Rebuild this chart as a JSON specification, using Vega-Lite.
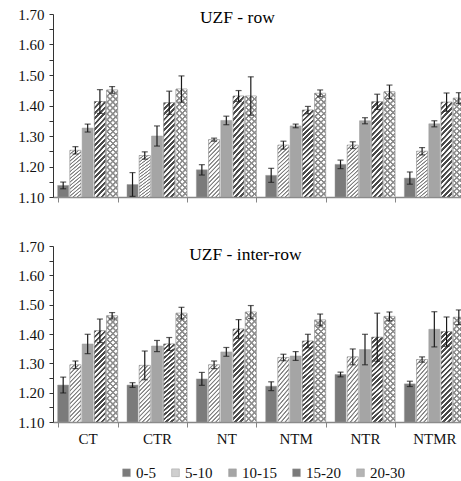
{
  "$schema": "https://vega.github.io/schema/vega-lite/v6.json",
  "padding": {"left": 17, "top": 7, "right": 0, "bottom": 20},
  "background": "white",
  "spacing": 34,
  "data": {
    "values": [
      {"panel": "row", "treat": "CT", "depth": "0-5", "value": 1.138, "err": 0.011},
      {"panel": "row", "treat": "CT", "depth": "5-10", "value": 1.253, "err": 0.012},
      {"panel": "row", "treat": "CT", "depth": "10-15", "value": 1.326, "err": 0.013},
      {"panel": "row", "treat": "CT", "depth": "15-20", "value": 1.413, "err": 0.039},
      {"panel": "row", "treat": "CT", "depth": "20-30", "value": 1.451, "err": 0.011},
      {"panel": "row", "treat": "CTR", "depth": "0-5", "value": 1.141, "err": 0.039},
      {"panel": "row", "treat": "CTR", "depth": "5-10", "value": 1.236, "err": 0.012},
      {"panel": "row", "treat": "CTR", "depth": "10-15", "value": 1.3, "err": 0.033},
      {"panel": "row", "treat": "CTR", "depth": "15-20", "value": 1.409, "err": 0.038},
      {"panel": "row", "treat": "CTR", "depth": "20-30", "value": 1.454, "err": 0.043},
      {"panel": "row", "treat": "NT", "depth": "0-5", "value": 1.189, "err": 0.017},
      {"panel": "row", "treat": "NT", "depth": "5-10", "value": 1.288, "err": 0.005},
      {"panel": "row", "treat": "NT", "depth": "10-15", "value": 1.351, "err": 0.014},
      {"panel": "row", "treat": "NT", "depth": "15-20", "value": 1.431, "err": 0.018},
      {"panel": "row", "treat": "NT", "depth": "20-30", "value": 1.431, "err": 0.063},
      {"panel": "row", "treat": "NTM", "depth": "0-5", "value": 1.171, "err": 0.023},
      {"panel": "row", "treat": "NTM", "depth": "5-10", "value": 1.27, "err": 0.013},
      {"panel": "row", "treat": "NTM", "depth": "10-15", "value": 1.333, "err": 0.006},
      {"panel": "row", "treat": "NTM", "depth": "15-20", "value": 1.385, "err": 0.012},
      {"panel": "row", "treat": "NTM", "depth": "20-30", "value": 1.44, "err": 0.011},
      {"panel": "row", "treat": "NTR", "depth": "0-5", "value": 1.207, "err": 0.014},
      {"panel": "row", "treat": "NTR", "depth": "5-10", "value": 1.27, "err": 0.011},
      {"panel": "row", "treat": "NTR", "depth": "10-15", "value": 1.35, "err": 0.01},
      {"panel": "row", "treat": "NTR", "depth": "15-20", "value": 1.412, "err": 0.025},
      {"panel": "row", "treat": "NTR", "depth": "20-30", "value": 1.445, "err": 0.022},
      {"panel": "row", "treat": "NTMR", "depth": "0-5", "value": 1.162, "err": 0.02},
      {"panel": "row", "treat": "NTMR", "depth": "5-10", "value": 1.25, "err": 0.012},
      {"panel": "row", "treat": "NTMR", "depth": "10-15", "value": 1.34, "err": 0.01},
      {"panel": "row", "treat": "NTMR", "depth": "15-20", "value": 1.411, "err": 0.03},
      {"panel": "row", "treat": "NTMR", "depth": "20-30", "value": 1.424, "err": 0.018},
      {"panel": "inter-row", "treat": "CT", "depth": "0-5", "value": 1.226, "err": 0.027},
      {"panel": "inter-row", "treat": "CT", "depth": "5-10", "value": 1.295, "err": 0.013},
      {"panel": "inter-row", "treat": "CT", "depth": "10-15", "value": 1.366, "err": 0.033},
      {"panel": "inter-row", "treat": "CT", "depth": "15-20", "value": 1.411, "err": 0.04},
      {"panel": "inter-row", "treat": "CT", "depth": "20-30", "value": 1.462, "err": 0.011},
      {"panel": "inter-row", "treat": "CTR", "depth": "0-5", "value": 1.226, "err": 0.008},
      {"panel": "inter-row", "treat": "CTR", "depth": "5-10", "value": 1.293, "err": 0.049},
      {"panel": "inter-row", "treat": "CTR", "depth": "10-15", "value": 1.359, "err": 0.019},
      {"panel": "inter-row", "treat": "CTR", "depth": "15-20", "value": 1.366, "err": 0.022},
      {"panel": "inter-row", "treat": "CTR", "depth": "20-30", "value": 1.471, "err": 0.02},
      {"panel": "inter-row", "treat": "NT", "depth": "0-5", "value": 1.247, "err": 0.022},
      {"panel": "inter-row", "treat": "NT", "depth": "5-10", "value": 1.295, "err": 0.013},
      {"panel": "inter-row", "treat": "NT", "depth": "10-15", "value": 1.339, "err": 0.015},
      {"panel": "inter-row", "treat": "NT", "depth": "15-20", "value": 1.417, "err": 0.032},
      {"panel": "inter-row", "treat": "NT", "depth": "20-30", "value": 1.475, "err": 0.022},
      {"panel": "inter-row", "treat": "NTM", "depth": "0-5", "value": 1.222, "err": 0.015},
      {"panel": "inter-row", "treat": "NTM", "depth": "5-10", "value": 1.32, "err": 0.011},
      {"panel": "inter-row", "treat": "NTM", "depth": "10-15", "value": 1.325, "err": 0.015},
      {"panel": "inter-row", "treat": "NTM", "depth": "15-20", "value": 1.376, "err": 0.023},
      {"panel": "inter-row", "treat": "NTM", "depth": "20-30", "value": 1.448, "err": 0.02},
      {"panel": "inter-row", "treat": "NTR", "depth": "0-5", "value": 1.262, "err": 0.008},
      {"panel": "inter-row", "treat": "NTR", "depth": "5-10", "value": 1.322, "err": 0.027},
      {"panel": "inter-row", "treat": "NTR", "depth": "10-15", "value": 1.347, "err": 0.052},
      {"panel": "inter-row", "treat": "NTR", "depth": "15-20", "value": 1.389, "err": 0.082},
      {"panel": "inter-row", "treat": "NTR", "depth": "20-30", "value": 1.46, "err": 0.015},
      {"panel": "inter-row", "treat": "NTMR", "depth": "0-5", "value": 1.23, "err": 0.009},
      {"panel": "inter-row", "treat": "NTMR", "depth": "5-10", "value": 1.313, "err": 0.009},
      {"panel": "inter-row", "treat": "NTMR", "depth": "10-15", "value": 1.416, "err": 0.06},
      {"panel": "inter-row", "treat": "NTMR", "depth": "15-20", "value": 1.408, "err": 0.05},
      {"panel": "inter-row", "treat": "NTMR", "depth": "20-30", "value": 1.457, "err": 0.025}
    ]
  },
  "transform": [
    {"calculate": "datum.value - datum.err", "as": "lo"},
    {"calculate": "datum.value + datum.err", "as": "hi"}
  ],
  "vconcat": [
    {
      "width": 416,
      "height": 183,
      "transform": [{"filter": "datum.panel == 'row'"}],
      "resolve": {"axis": {"y": "independent"}},
      "layer": [
        {
          "mark": {"type": "bar", "stroke": "#9a9a9a", "strokeWidth": 0.5},
          "encoding": {
            "x": {"field": "treat", "type": "nominal", "sort": ["CT", "CTR", "NT", "NTM", "NTR", "NTMR"],
                  "scale": {"paddingInner": 0.135, "paddingOuter": 0.0675},
                  "axis": {"title": null, "labels": false, "tickBand": "extent", "tickSize": 5, "tickColor": "#868686", "domainColor": "#868686", "domainWidth": 1.5}},
            "xOffset": {"field": "depth", "type": "nominal", "sort": ["0-5", "5-10", "10-15", "15-20", "20-30"],
                        "scale": {"domain": ["0-5", "5-10", "10-15", "15-20", "20-30"], "paddingInner": 0.1, "paddingOuter": 0}},
            "y": {"field": "value", "type": "quantitative", "title": null,
                  "scale": {"domain": [1.1, 1.7], "nice": false, "zero": false},
                  "axis": {"orient": "left", "values": [1.1, 1.2, 1.3, 1.4, 1.5, 1.6, 1.7], "format": ".2f",
                           "labelOverlap": false, "grid": false, "tickSize": 4, "labelPadding": 5, "tickColor": "#333", "domainColor": "#333",
                           "labelFont": "Liberation Serif, Times New Roman, serif", "labelFontSize": 15, "labelColor": "#111"}},
            "y2": {"datum": 1.1},
            "fill": {"field": "depth", "type": "nominal", "sort": ["0-5", "5-10", "10-15", "15-20", "20-30"],
                     "scale": {"domain": ["0-5", "5-10", "10-15", "15-20", "20-30"], "range": ["#7b7b7b", "#cfcfcf", "#a5a5a5", "#7a7a7a", "#b4b4b4"]},
                     "legend": {"orient": "none", "legendX": 66, "legendY": 451, "direction": "horizontal", "columns": 5,
                                "title": null, "symbolType": "square", "symbolSize": 60, "symbolStrokeWidth": 0.5, "symbolStrokeColor": "#999",
                                "labelFont": "Liberation Serif, Times New Roman, serif", "labelFontSize": 15, "labelColor": "#111", "labelOffset": 2, "columnPadding": 12}}
          }
        },
        {
          "transform": [{"filter": "datum.depth == '5-10'"}],
          "mark": {"type": "bar", "stroke": "#9a9a9a", "strokeWidth": 0.5,
                   "fill": {"gradient": "linear", "x1": 0, "y1": 0, "x2": 0.2308, "y2": 1.1538, "stops": [
                     {"offset": 0, "color": "#7f7f7f"}, {"offset": 0.012, "color": "#7f7f7f"}, {"offset": 0.024, "color": "#ffffff"}, {"offset": 0.05, "color": "#ffffff"},
                     {"offset": 0.0625, "color": "#7f7f7f"}, {"offset": 0.0745, "color": "#7f7f7f"}, {"offset": 0.0865, "color": "#ffffff"}, {"offset": 0.1125, "color": "#ffffff"},
                     {"offset": 0.125, "color": "#7f7f7f"}, {"offset": 0.137, "color": "#7f7f7f"}, {"offset": 0.149, "color": "#ffffff"}, {"offset": 0.175, "color": "#ffffff"},
                     {"offset": 0.1875, "color": "#7f7f7f"}, {"offset": 0.1995, "color": "#7f7f7f"}, {"offset": 0.2115, "color": "#ffffff"}, {"offset": 0.2375, "color": "#ffffff"},
                     {"offset": 0.25, "color": "#7f7f7f"}, {"offset": 0.262, "color": "#7f7f7f"}, {"offset": 0.274, "color": "#ffffff"}, {"offset": 0.3, "color": "#ffffff"},
                     {"offset": 0.3125, "color": "#7f7f7f"}, {"offset": 0.3245, "color": "#7f7f7f"}, {"offset": 0.3365, "color": "#ffffff"}, {"offset": 0.3625, "color": "#ffffff"},
                     {"offset": 0.375, "color": "#7f7f7f"}, {"offset": 0.387, "color": "#7f7f7f"}, {"offset": 0.399, "color": "#ffffff"}, {"offset": 0.425, "color": "#ffffff"},
                     {"offset": 0.4375, "color": "#7f7f7f"}, {"offset": 0.4495, "color": "#7f7f7f"}, {"offset": 0.4615, "color": "#ffffff"}, {"offset": 0.4875, "color": "#ffffff"},
                     {"offset": 0.5, "color": "#7f7f7f"}, {"offset": 0.512, "color": "#7f7f7f"}, {"offset": 0.524, "color": "#ffffff"}, {"offset": 0.55, "color": "#ffffff"},
                     {"offset": 0.5625, "color": "#7f7f7f"}, {"offset": 0.5745, "color": "#7f7f7f"}, {"offset": 0.5865, "color": "#ffffff"}, {"offset": 0.6125, "color": "#ffffff"},
                     {"offset": 0.625, "color": "#7f7f7f"}, {"offset": 0.637, "color": "#7f7f7f"}, {"offset": 0.649, "color": "#ffffff"}, {"offset": 0.675, "color": "#ffffff"},
                     {"offset": 0.6875, "color": "#7f7f7f"}, {"offset": 0.6995, "color": "#7f7f7f"}, {"offset": 0.7115, "color": "#ffffff"}, {"offset": 0.7375, "color": "#ffffff"},
                     {"offset": 0.75, "color": "#7f7f7f"}, {"offset": 0.762, "color": "#7f7f7f"}, {"offset": 0.774, "color": "#ffffff"}, {"offset": 0.8, "color": "#ffffff"},
                     {"offset": 0.8125, "color": "#7f7f7f"}, {"offset": 0.8245, "color": "#7f7f7f"}, {"offset": 0.8365, "color": "#ffffff"}, {"offset": 0.8625, "color": "#ffffff"},
                     {"offset": 0.875, "color": "#7f7f7f"}, {"offset": 0.887, "color": "#7f7f7f"}, {"offset": 0.899, "color": "#ffffff"}, {"offset": 0.925, "color": "#ffffff"},
                     {"offset": 0.9375, "color": "#7f7f7f"}, {"offset": 0.9495, "color": "#7f7f7f"}, {"offset": 0.9615, "color": "#ffffff"}, {"offset": 0.9875, "color": "#ffffff"},
                     {"offset": 1, "color": "#7f7f7f"}
                   ]}},
          "encoding": {
            "x": {"field": "treat", "type": "nominal", "sort": ["CT", "CTR", "NT", "NTM", "NTR", "NTMR"]},
            "xOffset": {"field": "depth", "type": "nominal", "sort": ["0-5", "5-10", "10-15", "15-20", "20-30"]},
            "y": {"field": "value", "type": "quantitative", "axis": null},
            "y2": {"datum": 1.1}
          }
        },
        {
          "transform": [{"filter": "datum.depth == '15-20'"}],
          "mark": {"type": "bar", "stroke": "#8a8a8a", "strokeWidth": 0.5,
                   "fill": {"gradient": "linear", "x1": 0, "y1": 0, "x2": 0.135, "y2": 1.106, "stops": [
                     {"offset": 0, "color": "#4a4a4a"}, {"offset": 0.022, "color": "#4a4a4a"}, {"offset": 0.028, "color": "#ffffff"}, {"offset": 0.047, "color": "#ffffff"},
                     {"offset": 0.05, "color": "#4a4a4a"}, {"offset": 0.072, "color": "#4a4a4a"}, {"offset": 0.078, "color": "#ffffff"}, {"offset": 0.097, "color": "#ffffff"},
                     {"offset": 0.1, "color": "#4a4a4a"}, {"offset": 0.122, "color": "#4a4a4a"}, {"offset": 0.128, "color": "#ffffff"}, {"offset": 0.147, "color": "#ffffff"},
                     {"offset": 0.15, "color": "#4a4a4a"}, {"offset": 0.172, "color": "#4a4a4a"}, {"offset": 0.178, "color": "#ffffff"}, {"offset": 0.197, "color": "#ffffff"},
                     {"offset": 0.2, "color": "#4a4a4a"}, {"offset": 0.222, "color": "#4a4a4a"}, {"offset": 0.228, "color": "#ffffff"}, {"offset": 0.247, "color": "#ffffff"},
                     {"offset": 0.25, "color": "#4a4a4a"}, {"offset": 0.272, "color": "#4a4a4a"}, {"offset": 0.278, "color": "#ffffff"}, {"offset": 0.297, "color": "#ffffff"},
                     {"offset": 0.3, "color": "#4a4a4a"}, {"offset": 0.322, "color": "#4a4a4a"}, {"offset": 0.328, "color": "#ffffff"}, {"offset": 0.347, "color": "#ffffff"},
                     {"offset": 0.35, "color": "#4a4a4a"}, {"offset": 0.372, "color": "#4a4a4a"}, {"offset": 0.378, "color": "#ffffff"}, {"offset": 0.397, "color": "#ffffff"},
                     {"offset": 0.4, "color": "#4a4a4a"}, {"offset": 0.422, "color": "#4a4a4a"}, {"offset": 0.428, "color": "#ffffff"}, {"offset": 0.447, "color": "#ffffff"},
                     {"offset": 0.45, "color": "#4a4a4a"}, {"offset": 0.472, "color": "#4a4a4a"}, {"offset": 0.478, "color": "#ffffff"}, {"offset": 0.497, "color": "#ffffff"},
                     {"offset": 0.5, "color": "#4a4a4a"}, {"offset": 0.522, "color": "#4a4a4a"}, {"offset": 0.528, "color": "#ffffff"}, {"offset": 0.547, "color": "#ffffff"},
                     {"offset": 0.55, "color": "#4a4a4a"}, {"offset": 0.572, "color": "#4a4a4a"}, {"offset": 0.578, "color": "#ffffff"}, {"offset": 0.597, "color": "#ffffff"},
                     {"offset": 0.6, "color": "#4a4a4a"}, {"offset": 0.622, "color": "#4a4a4a"}, {"offset": 0.628, "color": "#ffffff"}, {"offset": 0.647, "color": "#ffffff"},
                     {"offset": 0.65, "color": "#4a4a4a"}, {"offset": 0.672, "color": "#4a4a4a"}, {"offset": 0.678, "color": "#ffffff"}, {"offset": 0.697, "color": "#ffffff"},
                     {"offset": 0.7, "color": "#4a4a4a"}, {"offset": 0.722, "color": "#4a4a4a"}, {"offset": 0.728, "color": "#ffffff"}, {"offset": 0.747, "color": "#ffffff"},
                     {"offset": 0.75, "color": "#4a4a4a"}, {"offset": 0.772, "color": "#4a4a4a"}, {"offset": 0.778, "color": "#ffffff"}, {"offset": 0.797, "color": "#ffffff"},
                     {"offset": 0.8, "color": "#4a4a4a"}, {"offset": 0.822, "color": "#4a4a4a"}, {"offset": 0.828, "color": "#ffffff"}, {"offset": 0.847, "color": "#ffffff"},
                     {"offset": 0.85, "color": "#4a4a4a"}, {"offset": 0.872, "color": "#4a4a4a"}, {"offset": 0.878, "color": "#ffffff"}, {"offset": 0.897, "color": "#ffffff"},
                     {"offset": 0.9, "color": "#4a4a4a"}, {"offset": 0.922, "color": "#4a4a4a"}, {"offset": 0.928, "color": "#ffffff"}, {"offset": 0.947, "color": "#ffffff"},
                     {"offset": 0.95, "color": "#4a4a4a"}, {"offset": 0.972, "color": "#4a4a4a"}, {"offset": 0.978, "color": "#ffffff"}, {"offset": 1, "color": "#ffffff"}
                   ]}},
          "encoding": {
            "x": {"field": "treat", "type": "nominal", "sort": ["CT", "CTR", "NT", "NTM", "NTR", "NTMR"]},
            "xOffset": {"field": "depth", "type": "nominal", "sort": ["0-5", "5-10", "10-15", "15-20", "20-30"]},
            "y": {"field": "value", "type": "quantitative", "axis": null},
            "y2": {"datum": 1.1}
          }
        },
        {
          "transform": [{"filter": "datum.depth == '20-30'"}],
          "mark": {"type": "bar", "stroke": "#9a9a9a", "strokeWidth": 0.5,
                   "fill": {"gradient": "linear", "x1": 0, "y1": 0, "x2": 0.1148, "y2": 1.093, "stops": [
                     {"offset": 0, "color": "#8c8c8c"}, {"offset": 0.012, "color": "#8c8c8c"}, {"offset": 0.02, "color": "#ffffff"}, {"offset": 0.045, "color": "#ffffff"},
                     {"offset": 0.05, "color": "#8c8c8c"}, {"offset": 0.062, "color": "#8c8c8c"}, {"offset": 0.07, "color": "#ffffff"}, {"offset": 0.095, "color": "#ffffff"},
                     {"offset": 0.1, "color": "#8c8c8c"}, {"offset": 0.112, "color": "#8c8c8c"}, {"offset": 0.12, "color": "#ffffff"}, {"offset": 0.145, "color": "#ffffff"},
                     {"offset": 0.15, "color": "#8c8c8c"}, {"offset": 0.162, "color": "#8c8c8c"}, {"offset": 0.17, "color": "#ffffff"}, {"offset": 0.195, "color": "#ffffff"},
                     {"offset": 0.2, "color": "#8c8c8c"}, {"offset": 0.212, "color": "#8c8c8c"}, {"offset": 0.22, "color": "#ffffff"}, {"offset": 0.245, "color": "#ffffff"},
                     {"offset": 0.25, "color": "#8c8c8c"}, {"offset": 0.262, "color": "#8c8c8c"}, {"offset": 0.27, "color": "#ffffff"}, {"offset": 0.295, "color": "#ffffff"},
                     {"offset": 0.3, "color": "#8c8c8c"}, {"offset": 0.312, "color": "#8c8c8c"}, {"offset": 0.32, "color": "#ffffff"}, {"offset": 0.345, "color": "#ffffff"},
                     {"offset": 0.35, "color": "#8c8c8c"}, {"offset": 0.362, "color": "#8c8c8c"}, {"offset": 0.37, "color": "#ffffff"}, {"offset": 0.395, "color": "#ffffff"},
                     {"offset": 0.4, "color": "#8c8c8c"}, {"offset": 0.412, "color": "#8c8c8c"}, {"offset": 0.42, "color": "#ffffff"}, {"offset": 0.445, "color": "#ffffff"},
                     {"offset": 0.45, "color": "#8c8c8c"}, {"offset": 0.462, "color": "#8c8c8c"}, {"offset": 0.47, "color": "#ffffff"}, {"offset": 0.495, "color": "#ffffff"},
                     {"offset": 0.5, "color": "#8c8c8c"}, {"offset": 0.512, "color": "#8c8c8c"}, {"offset": 0.52, "color": "#ffffff"}, {"offset": 0.545, "color": "#ffffff"},
                     {"offset": 0.55, "color": "#8c8c8c"}, {"offset": 0.562, "color": "#8c8c8c"}, {"offset": 0.57, "color": "#ffffff"}, {"offset": 0.595, "color": "#ffffff"},
                     {"offset": 0.6, "color": "#8c8c8c"}, {"offset": 0.612, "color": "#8c8c8c"}, {"offset": 0.62, "color": "#ffffff"}, {"offset": 0.645, "color": "#ffffff"},
                     {"offset": 0.65, "color": "#8c8c8c"}, {"offset": 0.662, "color": "#8c8c8c"}, {"offset": 0.67, "color": "#ffffff"}, {"offset": 0.695, "color": "#ffffff"},
                     {"offset": 0.7, "color": "#8c8c8c"}, {"offset": 0.712, "color": "#8c8c8c"}, {"offset": 0.72, "color": "#ffffff"}, {"offset": 0.745, "color": "#ffffff"},
                     {"offset": 0.75, "color": "#8c8c8c"}, {"offset": 0.762, "color": "#8c8c8c"}, {"offset": 0.77, "color": "#ffffff"}, {"offset": 0.795, "color": "#ffffff"},
                     {"offset": 0.8, "color": "#8c8c8c"}, {"offset": 0.812, "color": "#8c8c8c"}, {"offset": 0.82, "color": "#ffffff"}, {"offset": 0.845, "color": "#ffffff"},
                     {"offset": 0.85, "color": "#8c8c8c"}, {"offset": 0.862, "color": "#8c8c8c"}, {"offset": 0.87, "color": "#ffffff"}, {"offset": 0.895, "color": "#ffffff"},
                     {"offset": 0.9, "color": "#8c8c8c"}, {"offset": 0.912, "color": "#8c8c8c"}, {"offset": 0.92, "color": "#ffffff"}, {"offset": 0.945, "color": "#ffffff"},
                     {"offset": 0.95, "color": "#8c8c8c"}, {"offset": 0.962, "color": "#8c8c8c"}, {"offset": 0.97, "color": "#ffffff"}, {"offset": 1, "color": "#ffffff"}
                   ]}},
          "encoding": {
            "x": {"field": "treat", "type": "nominal", "sort": ["CT", "CTR", "NT", "NTM", "NTR", "NTMR"]},
            "xOffset": {"field": "depth", "type": "nominal", "sort": ["0-5", "5-10", "10-15", "15-20", "20-30"]},
            "y": {"field": "value", "type": "quantitative", "axis": null},
            "y2": {"datum": 1.1}
          }
        },
        {
          "transform": [{"filter": "datum.depth == '20-30'"}],
          "mark": {"type": "bar", "strokeWidth": 0,
                   "fill": {"gradient": "linear", "x1": 0, "y1": 1, "x2": 0.1148, "y2": -0.093, "stops": [
                     {"offset": 0, "color": "#8c8c8c"}, {"offset": 0.012, "color": "#8c8c8c"}, {"offset": 0.02, "color": "rgba(140,140,140,0)"}, {"offset": 0.045, "color": "rgba(140,140,140,0)"},
                     {"offset": 0.05, "color": "#8c8c8c"}, {"offset": 0.062, "color": "#8c8c8c"}, {"offset": 0.07, "color": "rgba(140,140,140,0)"}, {"offset": 0.095, "color": "rgba(140,140,140,0)"},
                     {"offset": 0.1, "color": "#8c8c8c"}, {"offset": 0.112, "color": "#8c8c8c"}, {"offset": 0.12, "color": "rgba(140,140,140,0)"}, {"offset": 0.145, "color": "rgba(140,140,140,0)"},
                     {"offset": 0.15, "color": "#8c8c8c"}, {"offset": 0.162, "color": "#8c8c8c"}, {"offset": 0.17, "color": "rgba(140,140,140,0)"}, {"offset": 0.195, "color": "rgba(140,140,140,0)"},
                     {"offset": 0.2, "color": "#8c8c8c"}, {"offset": 0.212, "color": "#8c8c8c"}, {"offset": 0.22, "color": "rgba(140,140,140,0)"}, {"offset": 0.245, "color": "rgba(140,140,140,0)"},
                     {"offset": 0.25, "color": "#8c8c8c"}, {"offset": 0.262, "color": "#8c8c8c"}, {"offset": 0.27, "color": "rgba(140,140,140,0)"}, {"offset": 0.295, "color": "rgba(140,140,140,0)"},
                     {"offset": 0.3, "color": "#8c8c8c"}, {"offset": 0.312, "color": "#8c8c8c"}, {"offset": 0.32, "color": "rgba(140,140,140,0)"}, {"offset": 0.345, "color": "rgba(140,140,140,0)"},
                     {"offset": 0.35, "color": "#8c8c8c"}, {"offset": 0.362, "color": "#8c8c8c"}, {"offset": 0.37, "color": "rgba(140,140,140,0)"}, {"offset": 0.395, "color": "rgba(140,140,140,0)"},
                     {"offset": 0.4, "color": "#8c8c8c"}, {"offset": 0.412, "color": "#8c8c8c"}, {"offset": 0.42, "color": "rgba(140,140,140,0)"}, {"offset": 0.445, "color": "rgba(140,140,140,0)"},
                     {"offset": 0.45, "color": "#8c8c8c"}, {"offset": 0.462, "color": "#8c8c8c"}, {"offset": 0.47, "color": "rgba(140,140,140,0)"}, {"offset": 0.495, "color": "rgba(140,140,140,0)"},
                     {"offset": 0.5, "color": "#8c8c8c"}, {"offset": 0.512, "color": "#8c8c8c"}, {"offset": 0.52, "color": "rgba(140,140,140,0)"}, {"offset": 0.545, "color": "rgba(140,140,140,0)"},
                     {"offset": 0.55, "color": "#8c8c8c"}, {"offset": 0.562, "color": "#8c8c8c"}, {"offset": 0.57, "color": "rgba(140,140,140,0)"}, {"offset": 0.595, "color": "rgba(140,140,140,0)"},
                     {"offset": 0.6, "color": "#8c8c8c"}, {"offset": 0.612, "color": "#8c8c8c"}, {"offset": 0.62, "color": "rgba(140,140,140,0)"}, {"offset": 0.645, "color": "rgba(140,140,140,0)"},
                     {"offset": 0.65, "color": "#8c8c8c"}, {"offset": 0.662, "color": "#8c8c8c"}, {"offset": 0.67, "color": "rgba(140,140,140,0)"}, {"offset": 0.695, "color": "rgba(140,140,140,0)"},
                     {"offset": 0.7, "color": "#8c8c8c"}, {"offset": 0.712, "color": "#8c8c8c"}, {"offset": 0.72, "color": "rgba(140,140,140,0)"}, {"offset": 0.745, "color": "rgba(140,140,140,0)"},
                     {"offset": 0.75, "color": "#8c8c8c"}, {"offset": 0.762, "color": "#8c8c8c"}, {"offset": 0.77, "color": "rgba(140,140,140,0)"}, {"offset": 0.795, "color": "rgba(140,140,140,0)"},
                     {"offset": 0.8, "color": "#8c8c8c"}, {"offset": 0.812, "color": "#8c8c8c"}, {"offset": 0.82, "color": "rgba(140,140,140,0)"}, {"offset": 0.845, "color": "rgba(140,140,140,0)"},
                     {"offset": 0.85, "color": "#8c8c8c"}, {"offset": 0.862, "color": "#8c8c8c"}, {"offset": 0.87, "color": "rgba(140,140,140,0)"}, {"offset": 0.895, "color": "rgba(140,140,140,0)"},
                     {"offset": 0.9, "color": "#8c8c8c"}, {"offset": 0.912, "color": "#8c8c8c"}, {"offset": 0.92, "color": "rgba(140,140,140,0)"}, {"offset": 0.945, "color": "rgba(140,140,140,0)"},
                     {"offset": 0.95, "color": "#8c8c8c"}, {"offset": 0.962, "color": "#8c8c8c"}, {"offset": 0.97, "color": "rgba(140,140,140,0)"}, {"offset": 1, "color": "rgba(140,140,140,0)"}
                   ]}},
          "encoding": {
            "x": {"field": "treat", "type": "nominal", "sort": ["CT", "CTR", "NT", "NTM", "NTR", "NTMR"]},
            "xOffset": {"field": "depth", "type": "nominal", "sort": ["0-5", "5-10", "10-15", "15-20", "20-30"]},
            "y": {"field": "value", "type": "quantitative", "axis": null},
            "y2": {"datum": 1.1}
          }
        },
        {
          "mark": {"type": "rule", "color": "#1a1a1a", "strokeWidth": 1.2},
          "encoding": {
            "x": {"field": "treat", "type": "nominal", "sort": ["CT", "CTR", "NT", "NTM", "NTR", "NTMR"]},
            "xOffset": {"field": "depth", "type": "nominal", "sort": ["0-5", "5-10", "10-15", "15-20", "20-30"]},
            "y": {"field": "lo", "type": "quantitative",
                  "axis": {"orient": "left", "title": null, "values": [1.15, 1.25, 1.35, 1.45, 1.55, 1.65], "labels": false, "domain": false, "grid": false,
                           "ticks": true, "tickSize": 4, "tickColor": "#333"}},
            "y2": {"field": "hi"}
          }
        },
        {
          "mark": {"type": "tick", "color": "#1a1a1a", "thickness": 1.2, "size": 6, "orient": "horizontal"},
          "encoding": {
            "x": {"field": "treat", "type": "nominal", "sort": ["CT", "CTR", "NT", "NTM", "NTR", "NTMR"]},
            "xOffset": {"field": "depth", "type": "nominal", "sort": ["0-5", "5-10", "10-15", "15-20", "20-30"]},
            "y": {"field": "lo", "type": "quantitative", "axis": null}
          }
        },
        {
          "mark": {"type": "tick", "color": "#1a1a1a", "thickness": 1.2, "size": 6, "orient": "horizontal"},
          "encoding": {
            "x": {"field": "treat", "type": "nominal", "sort": ["CT", "CTR", "NT", "NTM", "NTR", "NTMR"]},
            "xOffset": {"field": "depth", "type": "nominal", "sort": ["0-5", "5-10", "10-15", "15-20", "20-30"]},
            "y": {"field": "hi", "type": "quantitative", "axis": null}
          }
        },
        {
          "transform": [{"filter": "datum.treat == 'CT' && datum.depth == '0-5'"}],
          "mark": {"type": "text", "font": "Liberation Serif, Times New Roman, serif", "fontSize": 17.5, "align": "center", "baseline": "alphabetic", "dx": 11, "color": "#000"},
          "encoding": {
            "x": {"datum": "NT", "type": "nominal"},
            "y": {"datum": 1.672, "type": "quantitative", "axis": null},
            "text": {"value": "UZF - row"}
          }
        }
      ]
    },
    {
      "width": 416,
      "height": 176,
      "transform": [{"filter": "datum.panel == 'inter-row'"}],
      "resolve": {"axis": {"y": "independent"}},
      "layer": [
        {
          "mark": {"type": "bar", "stroke": "#9a9a9a", "strokeWidth": 0.5},
          "encoding": {
            "x": {"field": "treat", "type": "nominal", "sort": ["CT", "CTR", "NT", "NTM", "NTR", "NTMR"],
                  "scale": {"paddingInner": 0.135, "paddingOuter": 0.0675},
                  "axis": {"title": null, "labels": true, "labelAngle": 0, "tickBand": "extent", "tickSize": 5, "tickColor": "#868686", "domainColor": "#868686", "domainWidth": 1.5,
                           "labelFont": "Liberation Serif, Times New Roman, serif", "labelFontSize": 15, "labelColor": "#111", "labelPadding": 4}},
            "xOffset": {"field": "depth", "type": "nominal", "sort": ["0-5", "5-10", "10-15", "15-20", "20-30"],
                        "scale": {"domain": ["0-5", "5-10", "10-15", "15-20", "20-30"], "paddingInner": 0.1, "paddingOuter": 0}},
            "y": {"field": "value", "type": "quantitative", "title": null,
                  "scale": {"domain": [1.1, 1.7], "nice": false, "zero": false},
                  "axis": {"orient": "left", "values": [1.1, 1.2, 1.3, 1.4, 1.5, 1.6, 1.7], "format": ".2f",
                           "labelOverlap": false, "grid": false, "tickSize": 4, "labelPadding": 5, "tickColor": "#333", "domainColor": "#333",
                           "labelFont": "Liberation Serif, Times New Roman, serif", "labelFontSize": 15, "labelColor": "#111"}},
            "y2": {"datum": 1.1},
            "fill": {"field": "depth", "type": "nominal", "sort": ["0-5", "5-10", "10-15", "15-20", "20-30"],
                     "scale": {"domain": ["0-5", "5-10", "10-15", "15-20", "20-30"], "range": ["#7b7b7b", "#cfcfcf", "#a5a5a5", "#7a7a7a", "#b4b4b4"]}}
          }
        },
        {
          "transform": [{"filter": "datum.depth == '5-10'"}],
          "mark": {"type": "bar", "stroke": "#9a9a9a", "strokeWidth": 0.5,
                   "fill": {"gradient": "linear", "x1": 0, "y1": 0, "x2": 0.2308, "y2": 1.1538, "stops": [
                     {"offset": 0, "color": "#7f7f7f"}, {"offset": 0.012, "color": "#7f7f7f"}, {"offset": 0.024, "color": "#ffffff"}, {"offset": 0.05, "color": "#ffffff"},
                     {"offset": 0.0625, "color": "#7f7f7f"}, {"offset": 0.0745, "color": "#7f7f7f"}, {"offset": 0.0865, "color": "#ffffff"}, {"offset": 0.1125, "color": "#ffffff"},
                     {"offset": 0.125, "color": "#7f7f7f"}, {"offset": 0.137, "color": "#7f7f7f"}, {"offset": 0.149, "color": "#ffffff"}, {"offset": 0.175, "color": "#ffffff"},
                     {"offset": 0.1875, "color": "#7f7f7f"}, {"offset": 0.1995, "color": "#7f7f7f"}, {"offset": 0.2115, "color": "#ffffff"}, {"offset": 0.2375, "color": "#ffffff"},
                     {"offset": 0.25, "color": "#7f7f7f"}, {"offset": 0.262, "color": "#7f7f7f"}, {"offset": 0.274, "color": "#ffffff"}, {"offset": 0.3, "color": "#ffffff"},
                     {"offset": 0.3125, "color": "#7f7f7f"}, {"offset": 0.3245, "color": "#7f7f7f"}, {"offset": 0.3365, "color": "#ffffff"}, {"offset": 0.3625, "color": "#ffffff"},
                     {"offset": 0.375, "color": "#7f7f7f"}, {"offset": 0.387, "color": "#7f7f7f"}, {"offset": 0.399, "color": "#ffffff"}, {"offset": 0.425, "color": "#ffffff"},
                     {"offset": 0.4375, "color": "#7f7f7f"}, {"offset": 0.4495, "color": "#7f7f7f"}, {"offset": 0.4615, "color": "#ffffff"}, {"offset": 0.4875, "color": "#ffffff"},
                     {"offset": 0.5, "color": "#7f7f7f"}, {"offset": 0.512, "color": "#7f7f7f"}, {"offset": 0.524, "color": "#ffffff"}, {"offset": 0.55, "color": "#ffffff"},
                     {"offset": 0.5625, "color": "#7f7f7f"}, {"offset": 0.5745, "color": "#7f7f7f"}, {"offset": 0.5865, "color": "#ffffff"}, {"offset": 0.6125, "color": "#ffffff"},
                     {"offset": 0.625, "color": "#7f7f7f"}, {"offset": 0.637, "color": "#7f7f7f"}, {"offset": 0.649, "color": "#ffffff"}, {"offset": 0.675, "color": "#ffffff"},
                     {"offset": 0.6875, "color": "#7f7f7f"}, {"offset": 0.6995, "color": "#7f7f7f"}, {"offset": 0.7115, "color": "#ffffff"}, {"offset": 0.7375, "color": "#ffffff"},
                     {"offset": 0.75, "color": "#7f7f7f"}, {"offset": 0.762, "color": "#7f7f7f"}, {"offset": 0.774, "color": "#ffffff"}, {"offset": 0.8, "color": "#ffffff"},
                     {"offset": 0.8125, "color": "#7f7f7f"}, {"offset": 0.8245, "color": "#7f7f7f"}, {"offset": 0.8365, "color": "#ffffff"}, {"offset": 0.8625, "color": "#ffffff"},
                     {"offset": 0.875, "color": "#7f7f7f"}, {"offset": 0.887, "color": "#7f7f7f"}, {"offset": 0.899, "color": "#ffffff"}, {"offset": 0.925, "color": "#ffffff"},
                     {"offset": 0.9375, "color": "#7f7f7f"}, {"offset": 0.9495, "color": "#7f7f7f"}, {"offset": 0.9615, "color": "#ffffff"}, {"offset": 0.9875, "color": "#ffffff"},
                     {"offset": 1, "color": "#7f7f7f"}
                   ]}},
          "encoding": {
            "x": {"field": "treat", "type": "nominal", "sort": ["CT", "CTR", "NT", "NTM", "NTR", "NTMR"]},
            "xOffset": {"field": "depth", "type": "nominal", "sort": ["0-5", "5-10", "10-15", "15-20", "20-30"]},
            "y": {"field": "value", "type": "quantitative", "axis": null},
            "y2": {"datum": 1.1}
          }
        },
        {
          "transform": [{"filter": "datum.depth == '15-20'"}],
          "mark": {"type": "bar", "stroke": "#8a8a8a", "strokeWidth": 0.5,
                   "fill": {"gradient": "linear", "x1": 0, "y1": 0, "x2": 0.135, "y2": 1.106, "stops": [
                     {"offset": 0, "color": "#4a4a4a"}, {"offset": 0.022, "color": "#4a4a4a"}, {"offset": 0.028, "color": "#ffffff"}, {"offset": 0.047, "color": "#ffffff"},
                     {"offset": 0.05, "color": "#4a4a4a"}, {"offset": 0.072, "color": "#4a4a4a"}, {"offset": 0.078, "color": "#ffffff"}, {"offset": 0.097, "color": "#ffffff"},
                     {"offset": 0.1, "color": "#4a4a4a"}, {"offset": 0.122, "color": "#4a4a4a"}, {"offset": 0.128, "color": "#ffffff"}, {"offset": 0.147, "color": "#ffffff"},
                     {"offset": 0.15, "color": "#4a4a4a"}, {"offset": 0.172, "color": "#4a4a4a"}, {"offset": 0.178, "color": "#ffffff"}, {"offset": 0.197, "color": "#ffffff"},
                     {"offset": 0.2, "color": "#4a4a4a"}, {"offset": 0.222, "color": "#4a4a4a"}, {"offset": 0.228, "color": "#ffffff"}, {"offset": 0.247, "color": "#ffffff"},
                     {"offset": 0.25, "color": "#4a4a4a"}, {"offset": 0.272, "color": "#4a4a4a"}, {"offset": 0.278, "color": "#ffffff"}, {"offset": 0.297, "color": "#ffffff"},
                     {"offset": 0.3, "color": "#4a4a4a"}, {"offset": 0.322, "color": "#4a4a4a"}, {"offset": 0.328, "color": "#ffffff"}, {"offset": 0.347, "color": "#ffffff"},
                     {"offset": 0.35, "color": "#4a4a4a"}, {"offset": 0.372, "color": "#4a4a4a"}, {"offset": 0.378, "color": "#ffffff"}, {"offset": 0.397, "color": "#ffffff"},
                     {"offset": 0.4, "color": "#4a4a4a"}, {"offset": 0.422, "color": "#4a4a4a"}, {"offset": 0.428, "color": "#ffffff"}, {"offset": 0.447, "color": "#ffffff"},
                     {"offset": 0.45, "color": "#4a4a4a"}, {"offset": 0.472, "color": "#4a4a4a"}, {"offset": 0.478, "color": "#ffffff"}, {"offset": 0.497, "color": "#ffffff"},
                     {"offset": 0.5, "color": "#4a4a4a"}, {"offset": 0.522, "color": "#4a4a4a"}, {"offset": 0.528, "color": "#ffffff"}, {"offset": 0.547, "color": "#ffffff"},
                     {"offset": 0.55, "color": "#4a4a4a"}, {"offset": 0.572, "color": "#4a4a4a"}, {"offset": 0.578, "color": "#ffffff"}, {"offset": 0.597, "color": "#ffffff"},
                     {"offset": 0.6, "color": "#4a4a4a"}, {"offset": 0.622, "color": "#4a4a4a"}, {"offset": 0.628, "color": "#ffffff"}, {"offset": 0.647, "color": "#ffffff"},
                     {"offset": 0.65, "color": "#4a4a4a"}, {"offset": 0.672, "color": "#4a4a4a"}, {"offset": 0.678, "color": "#ffffff"}, {"offset": 0.697, "color": "#ffffff"},
                     {"offset": 0.7, "color": "#4a4a4a"}, {"offset": 0.722, "color": "#4a4a4a"}, {"offset": 0.728, "color": "#ffffff"}, {"offset": 0.747, "color": "#ffffff"},
                     {"offset": 0.75, "color": "#4a4a4a"}, {"offset": 0.772, "color": "#4a4a4a"}, {"offset": 0.778, "color": "#ffffff"}, {"offset": 0.797, "color": "#ffffff"},
                     {"offset": 0.8, "color": "#4a4a4a"}, {"offset": 0.822, "color": "#4a4a4a"}, {"offset": 0.828, "color": "#ffffff"}, {"offset": 0.847, "color": "#ffffff"},
                     {"offset": 0.85, "color": "#4a4a4a"}, {"offset": 0.872, "color": "#4a4a4a"}, {"offset": 0.878, "color": "#ffffff"}, {"offset": 0.897, "color": "#ffffff"},
                     {"offset": 0.9, "color": "#4a4a4a"}, {"offset": 0.922, "color": "#4a4a4a"}, {"offset": 0.928, "color": "#ffffff"}, {"offset": 0.947, "color": "#ffffff"},
                     {"offset": 0.95, "color": "#4a4a4a"}, {"offset": 0.972, "color": "#4a4a4a"}, {"offset": 0.978, "color": "#ffffff"}, {"offset": 1, "color": "#ffffff"}
                   ]}},
          "encoding": {
            "x": {"field": "treat", "type": "nominal", "sort": ["CT", "CTR", "NT", "NTM", "NTR", "NTMR"]},
            "xOffset": {"field": "depth", "type": "nominal", "sort": ["0-5", "5-10", "10-15", "15-20", "20-30"]},
            "y": {"field": "value", "type": "quantitative", "axis": null},
            "y2": {"datum": 1.1}
          }
        },
        {
          "transform": [{"filter": "datum.depth == '20-30'"}],
          "mark": {"type": "bar", "stroke": "#9a9a9a", "strokeWidth": 0.5,
                   "fill": {"gradient": "linear", "x1": 0, "y1": 0, "x2": 0.1148, "y2": 1.093, "stops": [
                     {"offset": 0, "color": "#8c8c8c"}, {"offset": 0.012, "color": "#8c8c8c"}, {"offset": 0.02, "color": "#ffffff"}, {"offset": 0.045, "color": "#ffffff"},
                     {"offset": 0.05, "color": "#8c8c8c"}, {"offset": 0.062, "color": "#8c8c8c"}, {"offset": 0.07, "color": "#ffffff"}, {"offset": 0.095, "color": "#ffffff"},
                     {"offset": 0.1, "color": "#8c8c8c"}, {"offset": 0.112, "color": "#8c8c8c"}, {"offset": 0.12, "color": "#ffffff"}, {"offset": 0.145, "color": "#ffffff"},
                     {"offset": 0.15, "color": "#8c8c8c"}, {"offset": 0.162, "color": "#8c8c8c"}, {"offset": 0.17, "color": "#ffffff"}, {"offset": 0.195, "color": "#ffffff"},
                     {"offset": 0.2, "color": "#8c8c8c"}, {"offset": 0.212, "color": "#8c8c8c"}, {"offset": 0.22, "color": "#ffffff"}, {"offset": 0.245, "color": "#ffffff"},
                     {"offset": 0.25, "color": "#8c8c8c"}, {"offset": 0.262, "color": "#8c8c8c"}, {"offset": 0.27, "color": "#ffffff"}, {"offset": 0.295, "color": "#ffffff"},
                     {"offset": 0.3, "color": "#8c8c8c"}, {"offset": 0.312, "color": "#8c8c8c"}, {"offset": 0.32, "color": "#ffffff"}, {"offset": 0.345, "color": "#ffffff"},
                     {"offset": 0.35, "color": "#8c8c8c"}, {"offset": 0.362, "color": "#8c8c8c"}, {"offset": 0.37, "color": "#ffffff"}, {"offset": 0.395, "color": "#ffffff"},
                     {"offset": 0.4, "color": "#8c8c8c"}, {"offset": 0.412, "color": "#8c8c8c"}, {"offset": 0.42, "color": "#ffffff"}, {"offset": 0.445, "color": "#ffffff"},
                     {"offset": 0.45, "color": "#8c8c8c"}, {"offset": 0.462, "color": "#8c8c8c"}, {"offset": 0.47, "color": "#ffffff"}, {"offset": 0.495, "color": "#ffffff"},
                     {"offset": 0.5, "color": "#8c8c8c"}, {"offset": 0.512, "color": "#8c8c8c"}, {"offset": 0.52, "color": "#ffffff"}, {"offset": 0.545, "color": "#ffffff"},
                     {"offset": 0.55, "color": "#8c8c8c"}, {"offset": 0.562, "color": "#8c8c8c"}, {"offset": 0.57, "color": "#ffffff"}, {"offset": 0.595, "color": "#ffffff"},
                     {"offset": 0.6, "color": "#8c8c8c"}, {"offset": 0.612, "color": "#8c8c8c"}, {"offset": 0.62, "color": "#ffffff"}, {"offset": 0.645, "color": "#ffffff"},
                     {"offset": 0.65, "color": "#8c8c8c"}, {"offset": 0.662, "color": "#8c8c8c"}, {"offset": 0.67, "color": "#ffffff"}, {"offset": 0.695, "color": "#ffffff"},
                     {"offset": 0.7, "color": "#8c8c8c"}, {"offset": 0.712, "color": "#8c8c8c"}, {"offset": 0.72, "color": "#ffffff"}, {"offset": 0.745, "color": "#ffffff"},
                     {"offset": 0.75, "color": "#8c8c8c"}, {"offset": 0.762, "color": "#8c8c8c"}, {"offset": 0.77, "color": "#ffffff"}, {"offset": 0.795, "color": "#ffffff"},
                     {"offset": 0.8, "color": "#8c8c8c"}, {"offset": 0.812, "color": "#8c8c8c"}, {"offset": 0.82, "color": "#ffffff"}, {"offset": 0.845, "color": "#ffffff"},
                     {"offset": 0.85, "color": "#8c8c8c"}, {"offset": 0.862, "color": "#8c8c8c"}, {"offset": 0.87, "color": "#ffffff"}, {"offset": 0.895, "color": "#ffffff"},
                     {"offset": 0.9, "color": "#8c8c8c"}, {"offset": 0.912, "color": "#8c8c8c"}, {"offset": 0.92, "color": "#ffffff"}, {"offset": 0.945, "color": "#ffffff"},
                     {"offset": 0.95, "color": "#8c8c8c"}, {"offset": 0.962, "color": "#8c8c8c"}, {"offset": 0.97, "color": "#ffffff"}, {"offset": 1, "color": "#ffffff"}
                   ]}},
          "encoding": {
            "x": {"field": "treat", "type": "nominal", "sort": ["CT", "CTR", "NT", "NTM", "NTR", "NTMR"]},
            "xOffset": {"field": "depth", "type": "nominal", "sort": ["0-5", "5-10", "10-15", "15-20", "20-30"]},
            "y": {"field": "value", "type": "quantitative", "axis": null},
            "y2": {"datum": 1.1}
          }
        },
        {
          "transform": [{"filter": "datum.depth == '20-30'"}],
          "mark": {"type": "bar", "strokeWidth": 0,
                   "fill": {"gradient": "linear", "x1": 0, "y1": 1, "x2": 0.1148, "y2": -0.093, "stops": [
                     {"offset": 0, "color": "#8c8c8c"}, {"offset": 0.012, "color": "#8c8c8c"}, {"offset": 0.02, "color": "rgba(140,140,140,0)"}, {"offset": 0.045, "color": "rgba(140,140,140,0)"},
                     {"offset": 0.05, "color": "#8c8c8c"}, {"offset": 0.062, "color": "#8c8c8c"}, {"offset": 0.07, "color": "rgba(140,140,140,0)"}, {"offset": 0.095, "color": "rgba(140,140,140,0)"},
                     {"offset": 0.1, "color": "#8c8c8c"}, {"offset": 0.112, "color": "#8c8c8c"}, {"offset": 0.12, "color": "rgba(140,140,140,0)"}, {"offset": 0.145, "color": "rgba(140,140,140,0)"},
                     {"offset": 0.15, "color": "#8c8c8c"}, {"offset": 0.162, "color": "#8c8c8c"}, {"offset": 0.17, "color": "rgba(140,140,140,0)"}, {"offset": 0.195, "color": "rgba(140,140,140,0)"},
                     {"offset": 0.2, "color": "#8c8c8c"}, {"offset": 0.212, "color": "#8c8c8c"}, {"offset": 0.22, "color": "rgba(140,140,140,0)"}, {"offset": 0.245, "color": "rgba(140,140,140,0)"},
                     {"offset": 0.25, "color": "#8c8c8c"}, {"offset": 0.262, "color": "#8c8c8c"}, {"offset": 0.27, "color": "rgba(140,140,140,0)"}, {"offset": 0.295, "color": "rgba(140,140,140,0)"},
                     {"offset": 0.3, "color": "#8c8c8c"}, {"offset": 0.312, "color": "#8c8c8c"}, {"offset": 0.32, "color": "rgba(140,140,140,0)"}, {"offset": 0.345, "color": "rgba(140,140,140,0)"},
                     {"offset": 0.35, "color": "#8c8c8c"}, {"offset": 0.362, "color": "#8c8c8c"}, {"offset": 0.37, "color": "rgba(140,140,140,0)"}, {"offset": 0.395, "color": "rgba(140,140,140,0)"},
                     {"offset": 0.4, "color": "#8c8c8c"}, {"offset": 0.412, "color": "#8c8c8c"}, {"offset": 0.42, "color": "rgba(140,140,140,0)"}, {"offset": 0.445, "color": "rgba(140,140,140,0)"},
                     {"offset": 0.45, "color": "#8c8c8c"}, {"offset": 0.462, "color": "#8c8c8c"}, {"offset": 0.47, "color": "rgba(140,140,140,0)"}, {"offset": 0.495, "color": "rgba(140,140,140,0)"},
                     {"offset": 0.5, "color": "#8c8c8c"}, {"offset": 0.512, "color": "#8c8c8c"}, {"offset": 0.52, "color": "rgba(140,140,140,0)"}, {"offset": 0.545, "color": "rgba(140,140,140,0)"},
                     {"offset": 0.55, "color": "#8c8c8c"}, {"offset": 0.562, "color": "#8c8c8c"}, {"offset": 0.57, "color": "rgba(140,140,140,0)"}, {"offset": 0.595, "color": "rgba(140,140,140,0)"},
                     {"offset": 0.6, "color": "#8c8c8c"}, {"offset": 0.612, "color": "#8c8c8c"}, {"offset": 0.62, "color": "rgba(140,140,140,0)"}, {"offset": 0.645, "color": "rgba(140,140,140,0)"},
                     {"offset": 0.65, "color": "#8c8c8c"}, {"offset": 0.662, "color": "#8c8c8c"}, {"offset": 0.67, "color": "rgba(140,140,140,0)"}, {"offset": 0.695, "color": "rgba(140,140,140,0)"},
                     {"offset": 0.7, "color": "#8c8c8c"}, {"offset": 0.712, "color": "#8c8c8c"}, {"offset": 0.72, "color": "rgba(140,140,140,0)"}, {"offset": 0.745, "color": "rgba(140,140,140,0)"},
                     {"offset": 0.75, "color": "#8c8c8c"}, {"offset": 0.762, "color": "#8c8c8c"}, {"offset": 0.77, "color": "rgba(140,140,140,0)"}, {"offset": 0.795, "color": "rgba(140,140,140,0)"},
                     {"offset": 0.8, "color": "#8c8c8c"}, {"offset": 0.812, "color": "#8c8c8c"}, {"offset": 0.82, "color": "rgba(140,140,140,0)"}, {"offset": 0.845, "color": "rgba(140,140,140,0)"},
                     {"offset": 0.85, "color": "#8c8c8c"}, {"offset": 0.862, "color": "#8c8c8c"}, {"offset": 0.87, "color": "rgba(140,140,140,0)"}, {"offset": 0.895, "color": "rgba(140,140,140,0)"},
                     {"offset": 0.9, "color": "#8c8c8c"}, {"offset": 0.912, "color": "#8c8c8c"}, {"offset": 0.92, "color": "rgba(140,140,140,0)"}, {"offset": 0.945, "color": "rgba(140,140,140,0)"},
                     {"offset": 0.95, "color": "#8c8c8c"}, {"offset": 0.962, "color": "#8c8c8c"}, {"offset": 0.97, "color": "rgba(140,140,140,0)"}, {"offset": 1, "color": "rgba(140,140,140,0)"}
                   ]}},
          "encoding": {
            "x": {"field": "treat", "type": "nominal", "sort": ["CT", "CTR", "NT", "NTM", "NTR", "NTMR"]},
            "xOffset": {"field": "depth", "type": "nominal", "sort": ["0-5", "5-10", "10-15", "15-20", "20-30"]},
            "y": {"field": "value", "type": "quantitative", "axis": null},
            "y2": {"datum": 1.1}
          }
        },
        {
          "mark": {"type": "rule", "color": "#1a1a1a", "strokeWidth": 1.2},
          "encoding": {
            "x": {"field": "treat", "type": "nominal", "sort": ["CT", "CTR", "NT", "NTM", "NTR", "NTMR"]},
            "xOffset": {"field": "depth", "type": "nominal", "sort": ["0-5", "5-10", "10-15", "15-20", "20-30"]},
            "y": {"field": "lo", "type": "quantitative",
                  "axis": {"orient": "left", "title": null, "values": [1.15, 1.25, 1.35, 1.45, 1.55, 1.65], "labels": false, "domain": false, "grid": false,
                           "ticks": true, "tickSize": 4, "tickColor": "#333"}},
            "y2": {"field": "hi"}
          }
        },
        {
          "mark": {"type": "tick", "color": "#1a1a1a", "thickness": 1.2, "size": 6, "orient": "horizontal"},
          "encoding": {
            "x": {"field": "treat", "type": "nominal", "sort": ["CT", "CTR", "NT", "NTM", "NTR", "NTMR"]},
            "xOffset": {"field": "depth", "type": "nominal", "sort": ["0-5", "5-10", "10-15", "15-20", "20-30"]},
            "y": {"field": "lo", "type": "quantitative", "axis": null}
          }
        },
        {
          "mark": {"type": "tick", "color": "#1a1a1a", "thickness": 1.2, "size": 6, "orient": "horizontal"},
          "encoding": {
            "x": {"field": "treat", "type": "nominal", "sort": ["CT", "CTR", "NT", "NTM", "NTR", "NTMR"]},
            "xOffset": {"field": "depth", "type": "nominal", "sort": ["0-5", "5-10", "10-15", "15-20", "20-30"]},
            "y": {"field": "hi", "type": "quantitative", "axis": null}
          }
        },
        {
          "transform": [{"filter": "datum.treat == 'CT' && datum.depth == '0-5'"}],
          "mark": {"type": "text", "font": "Liberation Serif, Times New Roman, serif", "fontSize": 17.5, "align": "center", "baseline": "alphabetic", "dx": 19, "color": "#000"},
          "encoding": {
            "x": {"datum": "NT", "type": "nominal"},
            "y": {"datum": 1.651, "type": "quantitative", "axis": null},
            "text": {"value": "UZF - inter-row"}
          }
        }
      ]
    }
  ],
  "config": {
    "view": {"stroke": null},
    "font": "Liberation Serif, Times New Roman, serif"
  }
}
